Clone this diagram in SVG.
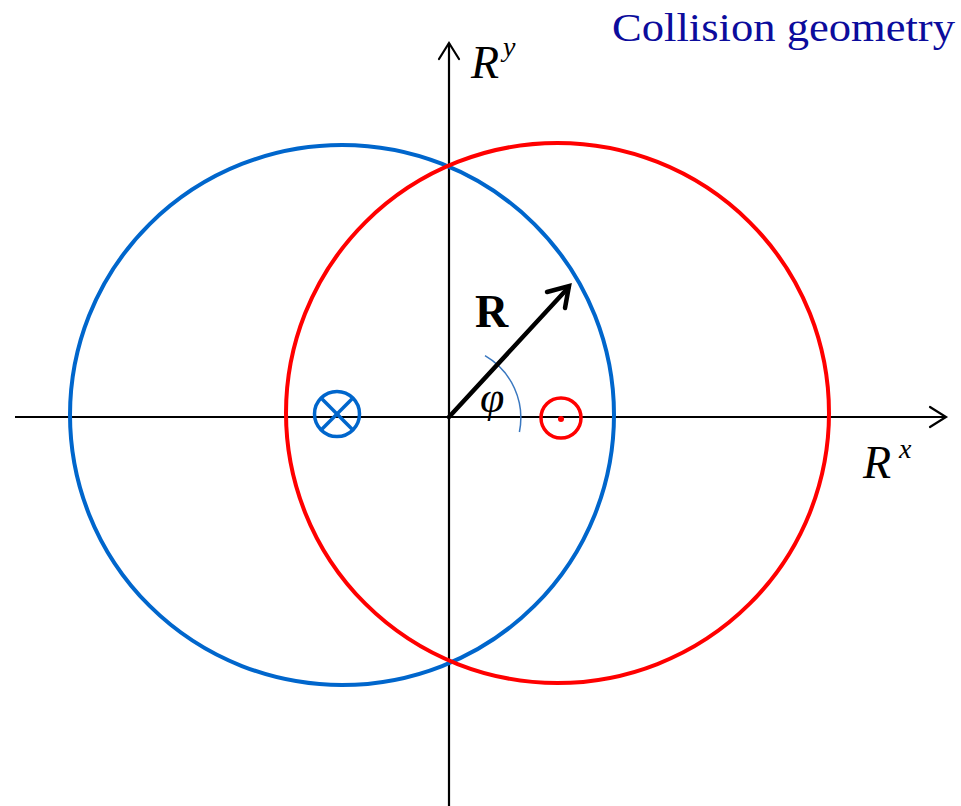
<svg xmlns="http://www.w3.org/2000/svg" width="961" height="806" viewBox="0 0 961 806">
<style>
.axis{stroke:#000;stroke-width:2.2;fill:none}
.head{stroke:#000;stroke-width:2.2;fill:none;stroke-linecap:round;stroke-linejoin:miter}
.blue{stroke:#0066cc;fill:none}
.red{stroke:#ff0000;fill:none}
.lbl{font-family:"Liberation Serif","Times New Roman",serif;font-style:italic;fill:#000}
</style>
<rect width="961" height="806" fill="#fff"/>
<g id="axes">
<line class="axis" x1="15" y1="417" x2="946" y2="417"/>
<polyline class="head" points="930,407 946,417 930,427"/>
<line class="axis" x1="449" y1="806" x2="449" y2="43"/>
<polyline class="head" points="439,59 449,43 459,59"/>
</g>
<g id="blue-circle"><ellipse class="blue" cx="342" cy="415" rx="272" ry="270" stroke-width="4"/></g>
<g id="red-circle"><ellipse class="red" cx="557.5" cy="413" rx="271.5" ry="270" stroke-width="4"/></g>
<g id="cross-symbol">
<circle class="blue" cx="337" cy="414" r="22.5" stroke-width="3.5"/>
<line class="blue" x1="321.1" y1="398.1" x2="352.9" y2="429.9" stroke-width="3.5"/>
<line class="blue" x1="352.9" y1="398.1" x2="321.1" y2="429.9" stroke-width="3.5"/>
</g>
<g id="dot-symbol">
<circle class="red" cx="561" cy="418" r="20" stroke-width="3.5"/>
<circle cx="561" cy="419" r="3" fill="#ff0000"/>
</g>
<g id="angle">
<path d="M485,355.6 A72,72 0 0 1 519.4,432" fill="none" stroke="#3a78c0" stroke-width="1.5"/>
<text class="lbl" x="480" y="412" font-size="44">φ</text>
</g>
<g id="vector">
<line x1="449" y1="417" x2="568" y2="288" stroke="#000" stroke-width="4.5" stroke-linecap="round"/>
<polyline points="547,292 569,286 565,308" fill="none" stroke="#000" stroke-width="4.5" stroke-linecap="round" stroke-linejoin="miter"/>
<text x="475" y="327" font-family="Liberation Serif,'Times New Roman',serif" font-weight="bold" font-size="46" fill="#000">R</text>
</g>
<g id="labels">
<text class="lbl" x="471" y="78" font-size="46">R</text>
<text class="lbl" x="503" y="56" font-size="28">y</text>
<text class="lbl" x="863" y="478" font-size="46">R</text>
<text class="lbl" x="899" y="458" font-size="28">x</text>
<text x="612" y="41" font-family="Liberation Serif,'Times New Roman',serif" font-size="40" fill="#0c0c9c" textLength="343" lengthAdjust="spacingAndGlyphs">Collision geometry</text>
</g>
</svg>
